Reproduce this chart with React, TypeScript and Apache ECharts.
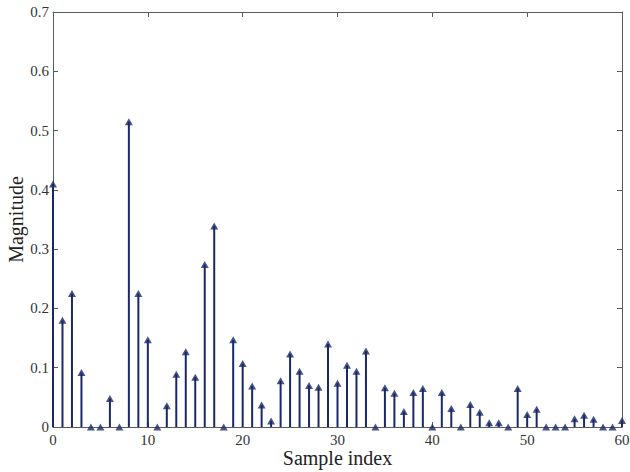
import React, { useEffect, useRef } from "react";
import * as echarts from "echarts";

const sampleIndex: number[] = Array.from({ length: 61 }, (_, i) => i);
const magnitude: number[] = [
  0.41, 0.18, 0.225, 0.092, 0, 0, 0.048, 0, 0.515, 0.225,
  0.147, 0, 0.036, 0.089, 0.127, 0.084, 0.274, 0.339, 0, 0.147,
  0.107, 0.069, 0.037, 0.01, 0.078, 0.123, 0.094, 0.07, 0.067, 0.14,
  0.074, 0.104, 0.094, 0.128, 0, 0.066, 0.057, 0.026, 0.058, 0.065,
  0, 0.058, 0.031, 0, 0.038, 0.025, 0.007, 0.007, 0, 0.065,
  0.021, 0.03, 0, 0, 0, 0.014, 0.02, 0.013, 0, 0,
  0.011,
];
const xTicks = { min: 0, max: 60, interval: 10 };
const yTicks = { min: 0, max: 0.7, interval: 0.1 };
const xTitle = "Sample index";
const yTitle = "Magnitude";

const STEM = "#1a2868";
const AXIS = "#5a5a5a";
const FONT = "'Liberation Serif', 'DejaVu Serif', serif";

export default function App() {
  const ref = useRef<HTMLDivElement>(null);
  useEffect(() => {
    document.body.style.margin = "0";
    if (!ref.current) return;
    const chart = echarts.init(ref.current, null, { renderer: "svg" });
    const points = sampleIndex.map((x, i) => [x, magnitude[i]]);
    const axisCommon = {
      axisLine: { show: true, onZero: false, lineStyle: { color: AXIS, width: 1 } },
      axisTick: { show: true, inside: true, length: 5, lineStyle: { color: AXIS } },
      splitLine: { show: false },
    };
    chart.setOption({
      animation: false,
      backgroundColor: "#ffffff",
      grid: {
        left: 53,
        right: 8,
        top: 12,
        bottom: 45,
        containLabel: false,
        outerBoundsMode: "none",
      },
      xAxis: [
        {
          type: "value",
          ...xTicks,
          position: "bottom",
          ...axisCommon,
          axisLabel: { color: "#333", fontFamily: FONT, fontSize: 15, margin: 5 },
          name: xTitle,
          nameLocation: "middle",
          nameGap: 21,
          nameMoveOverlap: false,
          nameTextStyle: { color: "#222", fontFamily: FONT, fontSize: 20 },
        },
        {
          type: "value",
          ...xTicks,
          position: "top",
          ...axisCommon,
          axisLabel: { show: false },
        },
      ],
      yAxis: [
        {
          type: "value",
          ...yTicks,
          position: "left",
          ...axisCommon,
          axisLabel: {
            color: "#333",
            fontFamily: FONT,
            fontSize: 15,
            margin: 4,
            formatter: (v: number) => (v === 0 ? "0" : v.toFixed(1)),
          },
          name: yTitle,
          nameLocation: "middle",
          nameGap: 27,
          nameMoveOverlap: false,
          nameTextStyle: { color: "#222", fontFamily: FONT, fontSize: 20 },
        },
        {
          type: "value",
          ...yTicks,
          position: "right",
          ...axisCommon,
          axisLabel: { show: false },
        },
      ],
      series: [
        {
          type: "custom",
          xAxisIndex: 0,
          yAxisIndex: 0,
          data: points,
          clip: false,
          renderItem: (params: any, api: any) => {
            const x = api.value(0);
            const y = api.value(1);
            const p0 = api.coord([x, 0]);
            const p1 = api.coord([x, y]);
            return {
              type: "line",
              shape: { x1: p0[0], y1: p0[1], x2: p1[0], y2: p1[1] },
              style: { stroke: STEM, lineWidth: 2 },
            };
          },
        },
        {
          type: "scatter",
          xAxisIndex: 0,
          yAxisIndex: 0,
          data: points,
          symbol: "triangle",
          symbolSize: [8, 7],
          clip: false,
          itemStyle: { color: STEM },
        },
      ],
    });
    return () => chart.dispose();
  }, []);
  return <div ref={ref} style={{ width: 630, height: 472 }} />;
}
